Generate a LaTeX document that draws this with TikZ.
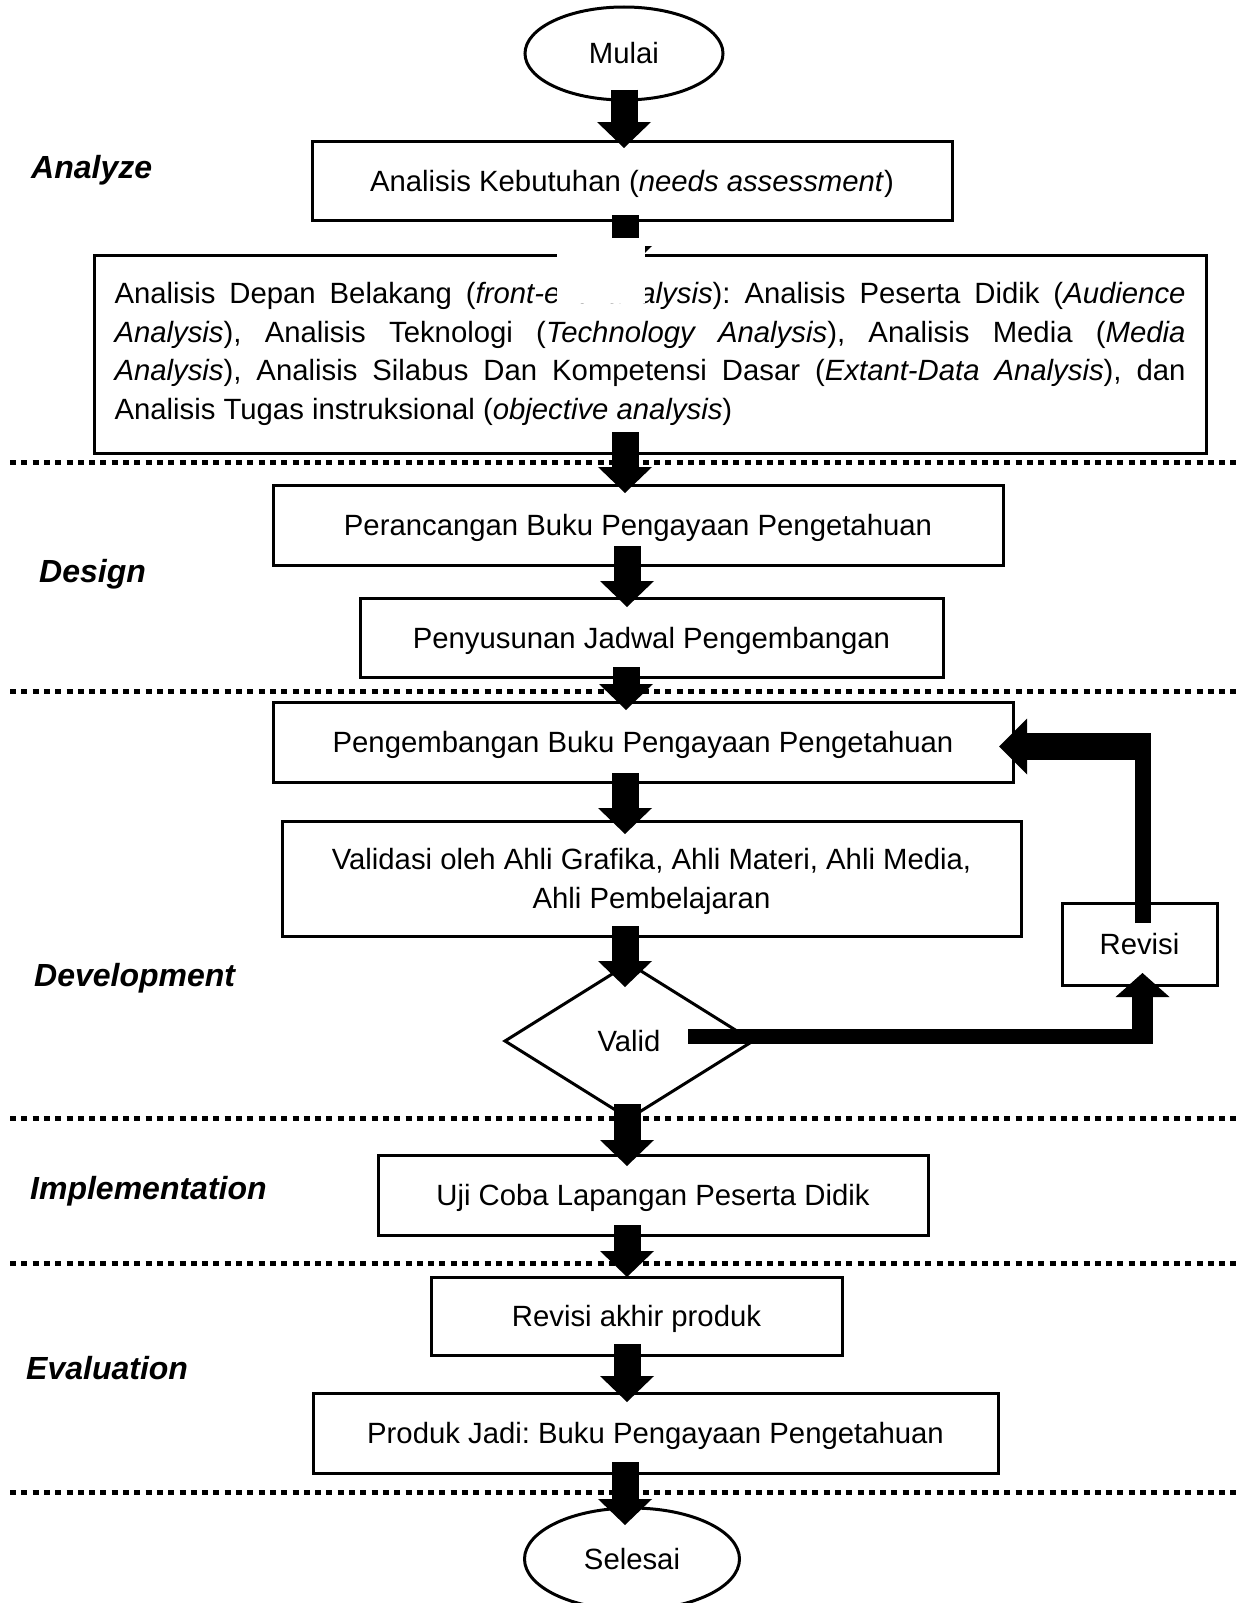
\documentclass[tikz,border=0pt]{standalone}
\usepackage{fontspec}
\setmainfont{Liberation Sans}
\frenchspacing
\usepackage{tikz}
\usetikzlibrary{shapes,arrows.meta,calc}
\tikzstyle{kotak} = [draw, line width=3pt, inner sep=0pt, outer sep=0pt, text depth=0pt, align=center]
\tikzstyle{ujung} = [draw, ellipse, line width=3pt, inner sep=0pt, outer sep=0pt]
\tikzstyle{keputusan} = [draw, diamond, line width=3pt, inner sep=0pt, outer sep=0pt]
\tikzstyle{panah} = [draw, line width=27pt, -{Triangle[length=26pt,width=54pt,line width=0pt]}]
\tikzstyle{panahbalik} = [draw, line width=27pt, -{Triangle[length=28pt,width=56pt,line width=0pt]}]
\tikzstyle{panahnaik} = [draw, line width=21pt, -{Triangle[length=24pt,width=54pt,line width=0pt]}]
\tikzstyle{balok} = [draw, line width=15pt]
\tikzstyle{garis} = [draw, line width=5pt, dash pattern=on 6pt off 5.3pt]
\tikzstyle{tahap} = [anchor=base west, inner sep=0pt, font=\fontsize{32}{38}\selectfont\bfseries\itshape]

\begin{document}
\begin{tikzpicture}[x=1pt, y=-1pt, every node/.style={font=\fontsize{29.3}{38.5}\selectfont}]
            \useasboundingbox (0,0) rectangle (1243,1603);
                \path [garis] (10,462) -- (1241,462);
                \path [garis] (10,691.5) -- (1241,691.5);
                \path [garis] (10,1118.5) -- (1241,1118.5);
                \path [garis] (10,1263) -- (1241,1263);
                \path [garis] (10,1492) -- (1241,1492);
                \node [tahap] (analyze) at (31,178) {Analyze};
                \node [tahap] (design) at (39,582) {Design};
                \node [tahap] (development) at (34,986) {Development};
                \node [tahap] (implementation) at (30,1199) {Implementation};
                \node [tahap] (evaluation) at (26,1379) {Evaluation};
                \node [ujung, minimum width=198pt, minimum height=93pt] (mulai) at (624,53.5) {Mulai};
                \node [kotak, minimum width=640pt, minimum height=79pt] (kebutuhan) at (632,180.5) {Analisis Kebutuhan (\textit{needs assessment})};
                \node [kotak, text depth={}, minimum width=1112pt, minimum height=198pt, text width=1071pt, align=justify] (analisis) at (650,354) {\hyphenpenalty=10000 \exhyphenpenalty=10000 Analisis Depan Belakang (\textit{front-end analysis}): Analisis Peserta Didik (\textit{Audience}\linebreak \textit{Analysis}), Analisis Teknologi (\textit{Technology Analysis}), Analisis Media (\textit{Media}\linebreak \textit{Analysis}), Analisis Silabus Dan Kompetensi Dasar (\textit{Extant-Data Analysis}), dan\linebreak Analisis Tugas instruksional (\textit{objective analysis})};
                \node [kotak, minimum width=730pt, minimum height=80pt] (perancangan) at (638,525) {Perancangan Buku Pengayaan Pengetahuan};
                \node [kotak, minimum width=583pt, minimum height=79pt] (penyusunan) at (651.5,637.5) {Penyusunan Jadwal Pengembangan};
                \node [kotak, minimum width=740pt, minimum height=80pt] (pengembangan) at (643,742) {Pengembangan Buku Pengayaan Pengetahuan};
                \node [kotak, minimum width=739pt, minimum height=115pt] (validasi) at (651.5,878.5) {Validasi oleh Ahli Grafika, Ahli Materi, Ahli Media,\\ Ahli Pembelajaran};
                \node [keputusan, minimum width=248pt, minimum height=155pt] (valid) at (629,1041) {Valid};
                \node [kotak, minimum width=155pt, minimum height=82pt] (revisi) at (1139.5,944) {Revisi};
                \node [kotak, minimum width=550pt, minimum height=80pt] (uji) at (653,1195) {Uji Coba Lapangan Peserta Didik};
                \node [kotak, minimum width=411pt, minimum height=78pt] (akhir) at (636.5,1316) {Revisi akhir produk};
                \node [kotak, minimum width=685pt, minimum height=80pt] (produk) at (655.5,1433) {Produk Jadi: Buku Pengayaan Pengetahuan};
                \node [ujung, minimum width=215pt, minimum height=102pt] (selesai) at (632,1559) {Selesai};
                \path [panah] ($(mulai.south)+(0,-10.5)$) -- ($(mulai.south |- kebutuhan.north)+(0,7)$);
                \path [panah] ($(kebutuhan.south)+(-7,-5)$) -- ($(kebutuhan.south |- analisis.north)+(-7,17)$);
                \fill [white] (557,238) rectangle (645,303);
                \path [panah] ($(analisis.south)+(-25,-21)$) -- ($(analisis.south |- perancangan.north)+(-25,8)$);
                \path [panah] ($(perancangan.south)+(-11,-19)$) -- ($(perancangan.south |- penyusunan.north)+(-11,9)$);
                \path [panah] ($(penyusunan.south)+(-25.5,-10)$) -- ($(penyusunan.south |- pengembangan.north)+(-25.5,8)$);
                \path [panah] ($(pengembangan.south)+(-18,-9)$) -- ($(pengembangan.south |- validasi.north)+(-18,13)$);
                \path [panah] ($(validasi.south)+(-26.5,-10)$) -- ($(validasi.south |- valid.north)+(-26.5,23.5)$);
                \path [panah] ($(valid.south)+(-2,-14.5)$) -- ($(valid.south |- uji.north)+(-2,11)$);
                \path [panah] ($(uji.south)+(-26,-10)$) -- ($(uji.south |- akhir.north)+(-26,0)$);
                \path [panah] ($(akhir.south)+(-9.5,-11)$) -- ($(akhir.south |- produk.north)+(-9.5,9)$);
                \path [panah] ($(produk.south)+(-30.5,-11)$) -- ($(produk.south |- selesai.north)+(-30.5,17)$);
                \path [balok] ($(valid.east)+(-65,-5)$) -- ($(revisi.south |- valid.east)+(13,-5)$);
                \path [panahnaik] ($(revisi.south |- valid.east)+(3,2.5)$) -- ($(revisi.south)+(3,-12)$);
                \path [draw, line width=16pt] ($(revisi.north)+(3,20)$) -- ($(revisi.north |- pengembangan.east)+(3,-9.5)$);
                \path [panahbalik] ($(revisi.north |- pengembangan.east)+(11,4.5)$) -- ($(pengembangan.east)+(-14,4.5)$);
            \end{tikzpicture}
\end{document}
